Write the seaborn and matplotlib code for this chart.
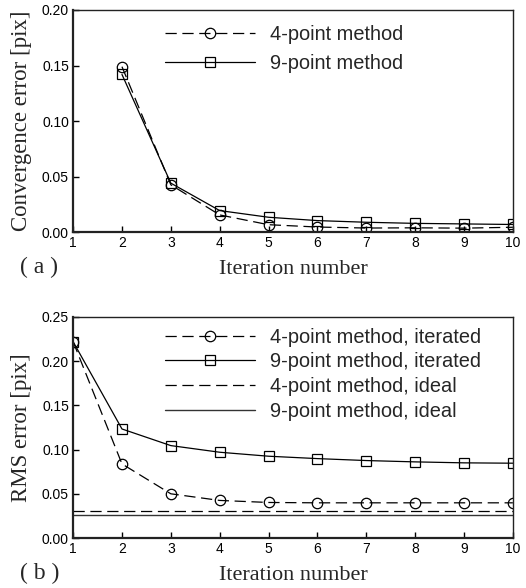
import numpy as np
import pandas as pd
import seaborn as sns
import matplotlib
matplotlib.use("Agg")
import matplotlib.pyplot as plt

# ---- data ----
iter_a = [2, 3, 4, 5, 6, 7, 8, 9, 10]
conv_4pt = [0.149, 0.0427, 0.0156, 0.0068, 0.0047, 0.0038, 0.004, 0.0037, 0.0045]
conv_9pt = [0.142, 0.0442, 0.0195, 0.0135, 0.0105, 0.009, 0.008, 0.0075, 0.007]

iter_b = [1, 2, 3, 4, 5, 6, 7, 8, 9, 10]
rms_4pt = [0.222, 0.0838, 0.050, 0.0425, 0.0402, 0.0398, 0.0398, 0.0398, 0.0398, 0.0398]
rms_9pt = [0.222, 0.1233, 0.1045, 0.097, 0.0925, 0.0898, 0.0876, 0.0861, 0.085, 0.0846]
ideal_4pt = 0.0300
ideal_9pt = 0.0263

xticks = list(range(1, 11))

sns.set_theme(style="white")
plt.rcParams['font.family'] = ['Liberation Sans', 'DejaVu Sans']

fig = plt.figure(figsize=(5.26, 5.88), dpi=100)
ax1 = fig.add_axes([0.139, 0.605, 0.836, 0.378])
ax2 = fig.add_axes([0.139, 0.085, 0.836, 0.376])

serif = ['Liberation Serif', 'DejaVu Serif']
mk = dict(markersize=7.5, markerfacecolor='none', markeredgecolor='black',
          markeredgewidth=0.9)
dash = (0, (9, 4.5))

# panel (a)
sns.lineplot(x=iter_a, y=conv_4pt, ax=ax1, color='black', lw=0.9,
             linestyle=dash, marker='o', label='4-point method', **mk)
sns.lineplot(x=iter_a, y=conv_9pt, ax=ax1, color='black', lw=0.9,
             marker='s', label='9-point method', **mk)
ax1.set_ylim(0, 0.20)
ax1.set_yticks([0, 0.05, 0.10, 0.15, 0.20])
ax1.set_ylabel('Convergence error [pix]', fontsize=16.5, family=serif, labelpad=7)

# panel (b)
sns.lineplot(x=iter_b, y=rms_4pt, ax=ax2, color='black', lw=0.9,
             linestyle=dash, marker='o', label='4-point method, iterated', **mk)
sns.lineplot(x=iter_b, y=rms_9pt, ax=ax2, color='black', lw=0.9,
             marker='s', label='9-point method, iterated', **mk)
ax2.axhline(ideal_4pt, color='black', lw=0.9, linestyle=dash,
            label='4-point method, ideal')
ax2.axhline(ideal_9pt, color='#333333', lw=1.0, label='9-point method, ideal')
ax2.set_ylim(0, 0.25)
ax2.set_yticks([0, 0.05, 0.10, 0.15, 0.20, 0.25])
ax2.set_ylabel('RMS error [pix]', fontsize=16.5, family=serif, labelpad=7)

for ax, tag in ((ax1, '( a )'), (ax2, '( b )')):
    ax.set_xlim(1, 10)
    ax.set_xticks(xticks)
    ax.set_xticklabels([str(t) for t in xticks])
    ax.set_yticklabels([f'{v:.2f}' for v in ax.get_yticks()])
    ax.tick_params(direction='in', length=4, width=1, labelsize=10,
                   colors='black', left=True, bottom=True)
    ax.tick_params(axis='y', pad=3)
    ax.tick_params(axis='x', pad=3)
    ax.set_xlabel('Iteration number', fontsize=16, family=serif, labelpad=7)
    for s in ('left', 'bottom'):
        ax.spines[s].set_linewidth(1.6)
        ax.spines[s].set_color('#222222')
    for s in ('top', 'right'):
        ax.spines[s].set_linewidth(1.0)
        ax.spines[s].set_color('#222222')
    ax.text(-0.12, -0.16, tag, transform=ax.transAxes, fontsize=17,
            family=serif, ha='left', va='center')

ax1.legend(loc='upper left', bbox_to_anchor=(0.209, 0.933), frameon=False,
           fontsize=14.4, numpoints=1, handlelength=4.5, handletextpad=0.75,
           labelspacing=0.5, borderpad=0, borderaxespad=0)
ax2.legend(loc='upper left', bbox_to_anchor=(0.209, 0.952), frameon=False,
           fontsize=14.4, numpoints=1, handlelength=4.5, handletextpad=0.75,
           labelspacing=0.29, borderpad=0, borderaxespad=0)

fig.savefig('out.png', dpi=100, facecolor='white')
